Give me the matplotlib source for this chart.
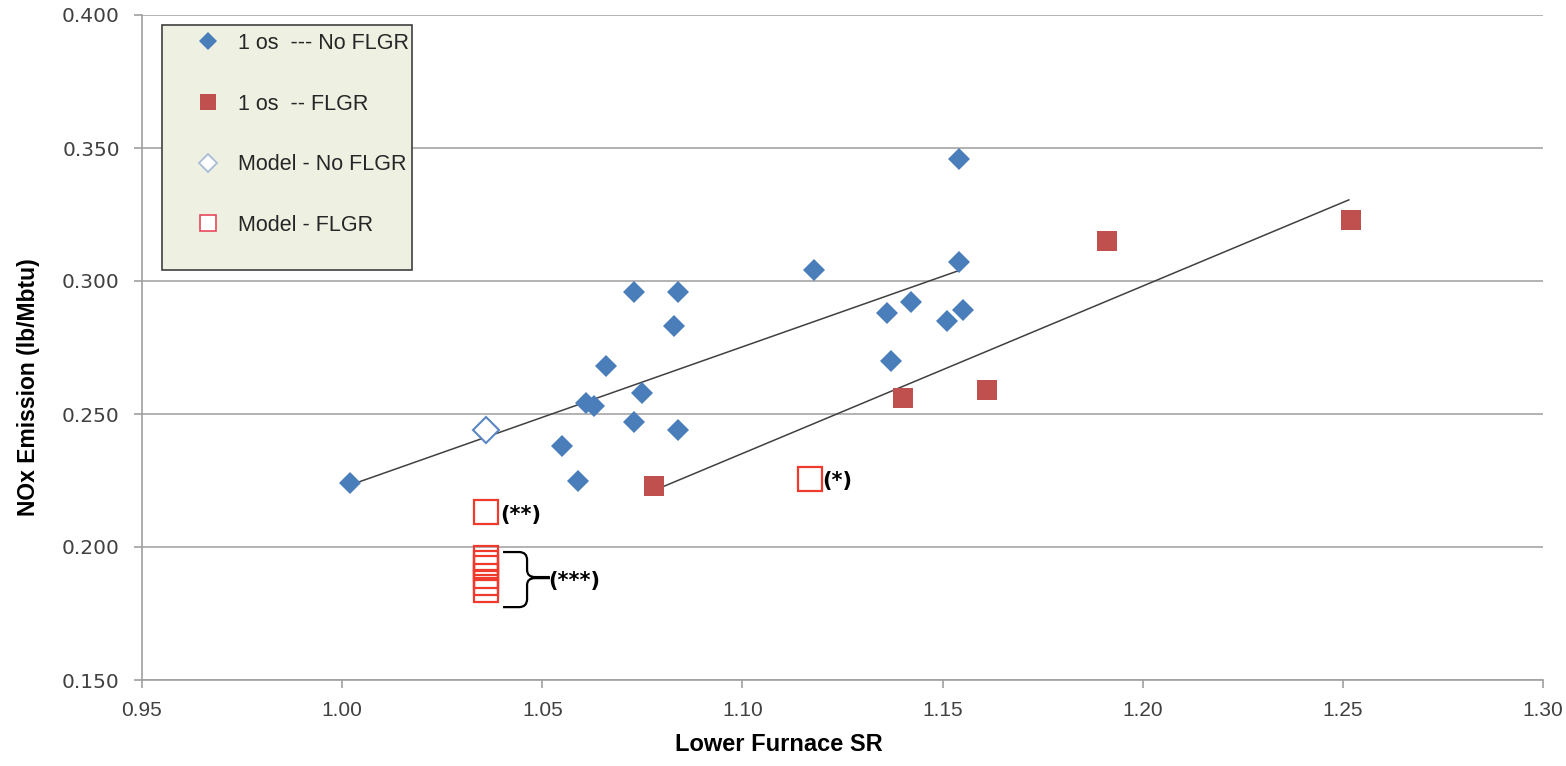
import matplotlib
matplotlib.use("Agg")
import matplotlib.pyplot as plt
from matplotlib.lines import Line2D
from matplotlib.path import Path
from matplotlib.patches import PathPatch, Rectangle

# =========================
# DATA
# =========================
no_flgr_sr = [1.002, 1.055, 1.059, 1.061, 1.063, 1.066, 1.073, 1.073, 1.075, 1.083,
              1.084, 1.084, 1.118, 1.136, 1.137, 1.142, 1.151, 1.155, 1.154, 1.154]
no_flgr_nox = [0.224, 0.238, 0.225, 0.254, 0.253, 0.268, 0.296, 0.247, 0.258, 0.283,
               0.296, 0.244, 0.304, 0.288, 0.270, 0.292, 0.285, 0.289, 0.307, 0.346]

flgr_sr = [1.078, 1.140, 1.161, 1.191, 1.252]
flgr_nox = [0.223, 0.256, 0.259, 0.315, 0.323]

model_no_flgr_sr = [1.036]
model_no_flgr_nox = [0.244]

model_flgr_sr = [1.117, 1.036, 1.036, 1.036, 1.036, 1.036, 1.036, 1.036]
model_flgr_nox = [0.2256, 0.2132, 0.1959, 0.1940, 0.1922, 0.1892, 0.1865, 0.1839]

# trend line end points
trend_no_flgr_sr = [1.002, 1.1544]
trend_no_flgr_nox = [0.2233, 0.3041]
trend_flgr_sr = [1.0794, 1.2515]
trend_flgr_nox = [0.2222, 0.3305]

x_ticks = [0.95, 1.00, 1.05, 1.10, 1.15, 1.20, 1.25, 1.30]
y_ticks = [0.150, 0.200, 0.250, 0.300, 0.350, 0.400]

legend_labels = ["1 os  --- No FLGR", "1 os  -- FLGR", "Model - No FLGR", "Model - FLGR"]

BLUE = "#4a7ebb"
DARKRED = "#c0504d"
OPENRED = "#f03a2e"
OPENBLUE = "#5a86c4"

W, H = 1566, 766
AX_L, AX_R, AX_T, AX_B = 142, 1543, 15, 680


def px_to_axes(px, py):
    return (px - AX_L) / (AX_R - AX_L), (AX_B - py) / (AX_B - AX_T)


def main():
    fig = plt.figure(figsize=(W / 100, H / 100), dpi=100)
    ax = fig.add_axes([AX_L / W, (H - AX_B) / H, (AX_R - AX_L) / W, (AX_B - AX_T) / H])

    # =========================
    # AXES STYLE
    # =========================
    ax.set_xlim(0.95, 1.30)
    ax.set_ylim(0.150, 0.400)
    ax.set_xticks(x_ticks)
    ax.set_yticks(y_ticks)
    ax.set_xticklabels([f"{v:.2f}" for v in x_ticks])
    ax.set_yticklabels([f"{v:.3f}" for v in y_ticks])
    ax.yaxis.grid(True, color="#a6a6a6", linewidth=1.2)
    ax.set_axisbelow(True)
    for s in ["top", "right"]:
        ax.spines[s].set_visible(False)
    for s in ["left", "bottom"]:
        ax.spines[s].set_color("#a0a0a0")
        ax.spines[s].set_linewidth(1.2)
    ax.tick_params(axis="both", direction="out", length=6, width=1.2, color="#a0a0a0")
    ax.tick_params(axis="y", labelsize=14.5, labelcolor="#404040", pad=10)
    ax.tick_params(axis="x", labelsize=15, labelcolor="#404040", pad=9)
    for lab in ax.get_xticklabels():
        lab.set_family("Liberation Sans")
    for lab in ax.get_yticklabels():
        lab.set_family("DejaVu Sans")

    # =========================
    # TREND LINES + POINTS
    # =========================
    ax.plot(trend_no_flgr_sr, trend_no_flgr_nox, color="#404040", linewidth=1.1, zorder=2)
    ax.plot(trend_flgr_sr, trend_flgr_nox, color="#404040", linewidth=1.1, zorder=2)

    ax.plot(no_flgr_sr, no_flgr_nox, linestyle="none", marker="D", markersize=11.5,
            color=BLUE, markeredgewidth=0, zorder=3)
    ax.plot(flgr_sr, flgr_nox, linestyle="none", marker="s", markersize=14.5,
            color=DARKRED, markeredgewidth=0, zorder=3)
    ax.plot(model_no_flgr_sr, model_no_flgr_nox, linestyle="none", marker="D", markersize=13,
            markerfacecolor="white", markeredgecolor=OPENBLUE, markeredgewidth=1.5, zorder=3)
    ax.plot(model_flgr_sr, model_flgr_nox, linestyle="none", marker="s", markersize=17.5,
            markerfacecolor="none", markeredgecolor=OPENRED, markeredgewidth=1.6, zorder=3)

    # =========================
    # ANNOTATIONS
    # =========================
    bold = dict(fontsize=15, fontweight="bold", color="black", va="center", ha="left")
    ax.text(1.1199, 0.2250, "(*)", **bold)
    ax.text(1.0396, 0.2120, "(**)", **bold)
    ax.text(1.0514, 0.1872, "(***)", **bold)

    verts = [
        (1.0402, 0.1981), (1.0442, 0.1981), (1.0462, 0.1981), (1.0462, 0.1951),
        (1.0462, 0.1914), (1.0462, 0.1887), (1.0482, 0.1887), (1.0519, 0.1887),
        (1.0519, 0.1883), (1.0482, 0.1883), (1.0462, 0.1883), (1.0462, 0.1857),
        (1.0462, 0.1805), (1.0462, 0.1774), (1.0442, 0.1774), (1.0402, 0.1774),
    ]
    codes = [Path.MOVETO, Path.LINETO, Path.CURVE3, Path.CURVE3,
             Path.LINETO, Path.CURVE3, Path.CURVE3, Path.LINETO,
             Path.MOVETO, Path.LINETO, Path.CURVE3, Path.CURVE3,
             Path.LINETO, Path.CURVE3, Path.CURVE3, Path.LINETO]
    ax.add_patch(PathPatch(Path(verts, codes), facecolor="none", edgecolor="black",
                           linewidth=1.6, zorder=3))

    # =========================
    # AXIS LABELS
    # =========================
    ax.set_xlabel("Lower Furnace SR", fontsize=17, fontweight="bold", family="Liberation Sans")
    ax.xaxis.set_label_coords(*px_to_axes(779, 733))
    ax.set_ylabel("NOx Emission (lb/Mbtu)", fontsize=16.5, fontweight="bold",
                  family="Liberation Sans")
    ax.yaxis.set_label_coords(*px_to_axes(40, 387))

    # =========================
    # LEGEND
    # =========================
    x0, y0 = px_to_axes(162, 270)
    x1, y1 = px_to_axes(412, 25)
    ax.add_patch(Rectangle((x0, y0), x1 - x0, y1 - y0, transform=ax.transAxes,
                           facecolor="#eef0e2", edgecolor="#404040", linewidth=1.2,
                           zorder=5))
    handles = [
        Line2D([], [], linestyle="none", marker="D", markersize=9, color=BLUE,
               markeredgewidth=0),
        Line2D([], [], linestyle="none", marker="s", markersize=12, color=DARKRED,
               markeredgewidth=0),
        Line2D([], [], linestyle="none", marker="D", markersize=9, markerfacecolor="white",
               markeredgecolor="#a9bcd6", markeredgewidth=1.3),
        Line2D([], [], linestyle="none", marker="s", markersize=11.5, markerfacecolor="white",
               markeredgecolor="#e8485a", markeredgewidth=1.2),
    ]
    leg = ax.legend(handles, legend_labels, loc="upper left",
                    bbox_to_anchor=px_to_axes(193, 33), borderaxespad=0, borderpad=0,
                    frameon=False, prop={"family": "Liberation Sans", "size": 15.5},
                    labelspacing=1.84, handletextpad=0.7, handlelength=1.4)
    leg.set_zorder(6)
    for t in leg.get_texts():
        t.set_color("#262626")

    fig.savefig("out.png", dpi=100)


if __name__ == "__main__":
    main()
